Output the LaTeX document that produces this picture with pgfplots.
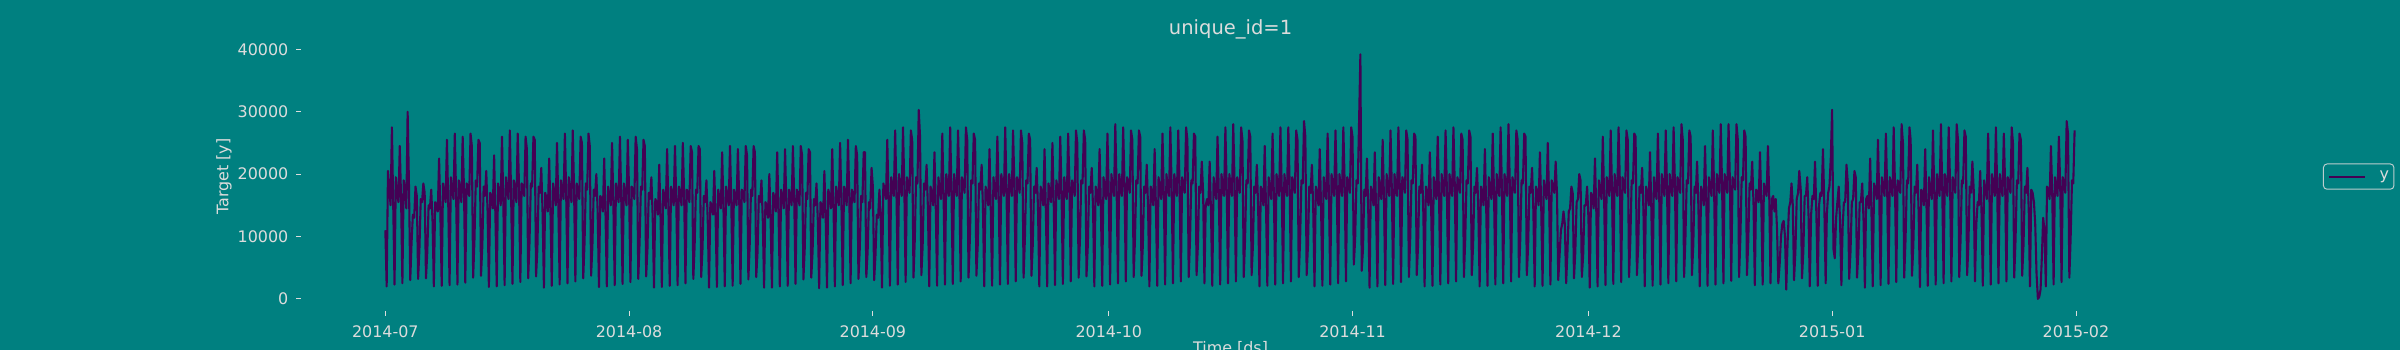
\documentclass[border=0pt]{standalone}
\usepackage{pgfplots}
\usepackage{pgfplotstable}
\pgfplotsset{compat=1.18}
\usepackage{fontspec}
\setmainfont{DejaVu Sans}
\definecolor{bg}{HTML}{008080}
\definecolor{fg}{HTML}{DCDCDC}
\definecolor{ln}{HTML}{440154}

% NYC taxi demand, sampled every 4 hours (00,04,08,12,16,20), one day per line, 2014-07-01 .. 2015-01-31
\pgfplotstableread[row sep=\\]{
y\\
11000\\ 2000\\ 20500\\ 17500\\ 15000\\ 27500\\
15000\\ 2300\\ 19500\\ 17000\\ 15500\\ 24500\\
16000\\ 2500\\ 19000\\ 17500\\ 14500\\ 30000\\
18500\\ 3000\\ 9000\\ 13500\\ 13000\\ 18000\\
16500\\ 3200\\ 8000\\ 16000\\ 15500\\ 18500\\
17000\\ 3300\\ 7500\\ 15000\\ 14500\\ 17500\\
12500\\ 2000\\ 15500\\ 15000\\ 14000\\ 22500\\
13500\\ 2100\\ 18500\\ 17000\\ 15500\\ 25500\\
15000\\ 2200\\ 19500\\ 17500\\ 16000\\ 26500\\
16500\\ 2300\\ 19000\\ 17500\\ 15500\\ 26000\\
17500\\ 2600\\ 18500\\ 18000\\ 16500\\ 26500\\
24500\\ 3400\\ 9500\\ 19000\\ 18000\\ 25500\\
25000\\ 3700\\ 8500\\ 18000\\ 16500\\ 20500\\
14000\\ 1900\\ 17000\\ 16500\\ 14500\\ 23000\\
13000\\ 2000\\ 18500\\ 17000\\ 15000\\ 26000\\
15500\\ 2200\\ 19500\\ 17500\\ 16000\\ 27000\\
16000\\ 2400\\ 19000\\ 17500\\ 15500\\ 26500\\
18000\\ 2700\\ 18500\\ 18000\\ 16500\\ 26000\\
24000\\ 3300\\ 9000\\ 18500\\ 18000\\ 26000\\
25500\\ 3600\\ 8000\\ 18000\\ 17000\\ 21000\\
13500\\ 1800\\ 17000\\ 16000\\ 14000\\ 22500\\
14000\\ 2100\\ 18500\\ 17000\\ 15000\\ 25000\\
15000\\ 2300\\ 19000\\ 17500\\ 16000\\ 26500\\
16500\\ 2500\\ 19500\\ 17500\\ 15500\\ 27000\\
17500\\ 2800\\ 18500\\ 17500\\ 16000\\ 26000\\
25000\\ 3300\\ 9000\\ 18500\\ 17500\\ 26500\\
24500\\ 3700\\ 8500\\ 17500\\ 16500\\ 20000\\
14000\\ 1900\\ 16500\\ 16000\\ 14000\\ 22500\\
13500\\ 2000\\ 18000\\ 16500\\ 15000\\ 25000\\
15000\\ 2200\\ 18500\\ 17000\\ 15500\\ 26000\\
16000\\ 2400\\ 18500\\ 17000\\ 15000\\ 25500\\
17000\\ 2700\\ 18000\\ 17500\\ 16000\\ 26000\\
24000\\ 3200\\ 9000\\ 18000\\ 17500\\ 25500\\
24500\\ 3600\\ 8000\\ 17000\\ 16000\\ 19500\\
13000\\ 1800\\ 16000\\ 15500\\ 13500\\ 21500\\
13000\\ 1900\\ 17500\\ 16500\\ 14500\\ 24000\\
14500\\ 2100\\ 18000\\ 16500\\ 15000\\ 24500\\
15500\\ 2200\\ 18000\\ 17000\\ 15000\\ 25000\\
16500\\ 2500\\ 17500\\ 17000\\ 15500\\ 24500\\
23500\\ 3200\\ 8500\\ 17500\\ 17000\\ 24500\\
24000\\ 3500\\ 8000\\ 16500\\ 15500\\ 19000\\
12500\\ 1800\\ 15500\\ 15000\\ 13500\\ 20500\\
13000\\ 1900\\ 17500\\ 16000\\ 14500\\ 23500\\
14500\\ 2000\\ 18000\\ 16500\\ 15000\\ 24500\\
15000\\ 2100\\ 17500\\ 16500\\ 15000\\ 24000\\
16000\\ 2400\\ 17500\\ 17000\\ 15500\\ 24500\\
23000\\ 3100\\ 8500\\ 17500\\ 16500\\ 24500\\
23500\\ 3500\\ 7500\\ 16500\\ 15500\\ 19000\\
12500\\ 1800\\ 15500\\ 15000\\ 13000\\ 20000\\
12500\\ 1800\\ 17000\\ 16000\\ 14000\\ 23500\\
14000\\ 2000\\ 17500\\ 16500\\ 14500\\ 24000\\
15000\\ 2100\\ 17500\\ 16500\\ 15000\\ 24500\\
16000\\ 2400\\ 17500\\ 16500\\ 15000\\ 24500\\
23000\\ 3100\\ 8000\\ 17000\\ 16000\\ 24000\\
23500\\ 3400\\ 7500\\ 16000\\ 15000\\ 18500\\
12500\\ 1700\\ 15500\\ 15000\\ 13000\\ 20500\\
13000\\ 1800\\ 17500\\ 16500\\ 14500\\ 24000\\
14500\\ 2000\\ 18000\\ 16500\\ 15000\\ 25000\\
15500\\ 2200\\ 18000\\ 17000\\ 15000\\ 25500\\
16500\\ 2500\\ 17500\\ 16500\\ 15500\\ 24500\\
23000\\ 3200\\ 8000\\ 16500\\ 15500\\ 23500\\
23500\\ 3500\\ 7500\\ 15500\\ 14500\\ 21000\\
18000\\ 3000\\ 7000\\ 13500\\ 13000\\ 17500\\
13000\\ 1800\\ 18500\\ 17500\\ 16000\\ 25500\\
15500\\ 2100\\ 19500\\ 18000\\ 16500\\ 27000\\
17000\\ 2300\\ 20000\\ 18000\\ 16500\\ 27500\\
18000\\ 2700\\ 19500\\ 18500\\ 17000\\ 27000\\
25500\\ 3400\\ 9500\\ 19500\\ 18500\\ 30300\\
26000\\ 3800\\ 8500\\ 18500\\ 17500\\ 21500\\
14500\\ 2000\\ 18000\\ 17000\\ 15000\\ 23500\\
14500\\ 2100\\ 19500\\ 17500\\ 16000\\ 26500\\
16000\\ 2300\\ 20000\\ 18000\\ 16500\\ 27500\\
17000\\ 2400\\ 20000\\ 18000\\ 16500\\ 27000\\
18000\\ 2800\\ 19500\\ 18500\\ 17000\\ 27500\\
25500\\ 3400\\ 9500\\ 19000\\ 18500\\ 26500\\
25500\\ 3700\\ 8500\\ 18500\\ 17500\\ 21500\\
14500\\ 2000\\ 18000\\ 17000\\ 15000\\ 24000\\
14000\\ 2100\\ 19500\\ 17500\\ 16000\\ 26000\\
16500\\ 2300\\ 20000\\ 18000\\ 16500\\ 27500\\
17000\\ 2400\\ 20000\\ 18000\\ 16500\\ 27000\\
18000\\ 2800\\ 19500\\ 18500\\ 17000\\ 27000\\
25000\\ 3400\\ 9500\\ 19000\\ 18500\\ 26500\\
25500\\ 3700\\ 8500\\ 18000\\ 17000\\ 21000\\
14500\\ 2000\\ 18000\\ 17000\\ 15000\\ 24000\\
14000\\ 2000\\ 18500\\ 17000\\ 15500\\ 25000\\
15500\\ 2200\\ 19000\\ 17500\\ 16000\\ 26000\\
16500\\ 2400\\ 19500\\ 17500\\ 16000\\ 26500\\
18000\\ 2800\\ 19000\\ 18000\\ 16500\\ 27000\\
25000\\ 3400\\ 9500\\ 19000\\ 18500\\ 27000\\
25500\\ 3600\\ 8500\\ 18000\\ 17000\\ 21000\\
14500\\ 2000\\ 18000\\ 17000\\ 15000\\ 24000\\
14500\\ 2100\\ 19500\\ 17500\\ 16000\\ 26500\\
16500\\ 2300\\ 20000\\ 18000\\ 16500\\ 28000\\
17500\\ 2500\\ 20000\\ 18000\\ 16500\\ 27500\\
18500\\ 2800\\ 19500\\ 18500\\ 17000\\ 27000\\
25500\\ 3500\\ 9500\\ 19000\\ 18500\\ 27000\\
26000\\ 3700\\ 8500\\ 18000\\ 17000\\ 21500\\
14500\\ 2000\\ 18000\\ 17000\\ 15000\\ 24000\\
14500\\ 2100\\ 19500\\ 17500\\ 16000\\ 26500\\
16500\\ 2300\\ 20000\\ 18000\\ 16500\\ 27500\\
17500\\ 2500\\ 20000\\ 18000\\ 16500\\ 27000\\
18500\\ 2800\\ 19500\\ 18500\\ 17000\\ 27500\\
25500\\ 3500\\ 9500\\ 19000\\ 18500\\ 26500\\
26000\\ 3800\\ 8500\\ 18000\\ 17000\\ 22000\\
17000\\ 2500\\ 15000\\ 16000\\ 15000\\ 22000\\
14000\\ 2100\\ 19500\\ 17500\\ 16000\\ 26000\\
16500\\ 2300\\ 20000\\ 18000\\ 16500\\ 27500\\
17500\\ 2500\\ 20000\\ 18000\\ 16500\\ 28000\\
18500\\ 2800\\ 19500\\ 18500\\ 17000\\ 27500\\
25500\\ 3500\\ 9500\\ 19000\\ 18500\\ 27000\\
26000\\ 3800\\ 8500\\ 18000\\ 17000\\ 21500\\
14500\\ 2000\\ 18000\\ 17000\\ 15000\\ 24500\\
14500\\ 2100\\ 19500\\ 17500\\ 16000\\ 26500\\
16500\\ 2300\\ 20000\\ 18000\\ 16500\\ 27500\\
17500\\ 2500\\ 20000\\ 18000\\ 16500\\ 27500\\
18500\\ 2800\\ 19500\\ 18500\\ 17000\\ 27000\\
25500\\ 3500\\ 9500\\ 19000\\ 18500\\ 28500\\
26000\\ 3800\\ 8500\\ 18000\\ 17000\\ 21500\\
14500\\ 2000\\ 18000\\ 17000\\ 15000\\ 24000\\
14500\\ 2100\\ 19500\\ 17500\\ 16000\\ 26500\\
16500\\ 2300\\ 20000\\ 18000\\ 16500\\ 27000\\
17500\\ 2500\\ 20000\\ 18000\\ 16500\\ 27500\\
18500\\ 2800\\ 19500\\ 18500\\ 17000\\ 27500\\
26000\\ 5500\\ 9500\\ 19000\\ 18500\\ 28500\\
39200\\ 4500\\ 8000\\ 17500\\ 16500\\ 22500\\
14000\\ 1800\\ 18000\\ 17000\\ 15000\\ 23500\\
14000\\ 2000\\ 19500\\ 17500\\ 16000\\ 25500\\
16000\\ 2200\\ 20000\\ 18000\\ 16500\\ 27000\\
17500\\ 2400\\ 20000\\ 18000\\ 16500\\ 27500\\
18500\\ 2700\\ 19500\\ 18500\\ 17000\\ 27000\\
25500\\ 3500\\ 9500\\ 19000\\ 18500\\ 26500\\
26000\\ 3800\\ 8500\\ 18000\\ 17000\\ 21500\\
14000\\ 2000\\ 18000\\ 17000\\ 15000\\ 23500\\
14500\\ 2100\\ 19500\\ 17500\\ 16000\\ 26000\\
16500\\ 2300\\ 20000\\ 18000\\ 16500\\ 27000\\
17500\\ 2500\\ 20000\\ 18000\\ 16500\\ 27500\\
18500\\ 2800\\ 19500\\ 18500\\ 17000\\ 26500\\
25500\\ 3500\\ 9500\\ 19000\\ 18500\\ 27000\\
26000\\ 3800\\ 8500\\ 18000\\ 17000\\ 21000\\
14000\\ 2000\\ 18000\\ 17000\\ 15000\\ 24000\\
14500\\ 2100\\ 19500\\ 17500\\ 16000\\ 26500\\
16500\\ 2300\\ 20000\\ 18000\\ 16500\\ 27500\\
17500\\ 2500\\ 20000\\ 18000\\ 16500\\ 28000\\
18500\\ 2800\\ 19500\\ 18500\\ 17000\\ 27000\\
25500\\ 3500\\ 9500\\ 19000\\ 18500\\ 26500\\
26000\\ 3800\\ 8500\\ 18000\\ 17000\\ 21000\\
14000\\ 2000\\ 18000\\ 17000\\ 15000\\ 23500\\
14500\\ 2100\\ 19000\\ 17500\\ 16000\\ 25000\\
16000\\ 2300\\ 19000\\ 18000\\ 17000\\ 22000\\
17000\\ 3000\\ 7000\\ 11000\\ 12000\\ 14000\\
12000\\ 2500\\ 7500\\ 14000\\ 14500\\ 18000\\
17000\\ 3300\\ 7500\\ 15500\\ 16000\\ 20000\\
19000\\ 3500\\ 7000\\ 15000\\ 15000\\ 18000\\
13000\\ 1800\\ 17000\\ 16500\\ 14500\\ 22500\\
14000\\ 2000\\ 19000\\ 17500\\ 16000\\ 26000\\
16000\\ 2200\\ 19500\\ 18000\\ 16500\\ 27000\\
17500\\ 2400\\ 20000\\ 18000\\ 16500\\ 27500\\
18500\\ 2700\\ 19500\\ 18500\\ 17000\\ 27000\\
25500\\ 3500\\ 9500\\ 19000\\ 18500\\ 26500\\
26000\\ 3800\\ 8500\\ 18000\\ 17000\\ 21000\\
14000\\ 2000\\ 18000\\ 17000\\ 15000\\ 23500\\
14500\\ 2100\\ 19500\\ 17500\\ 16000\\ 26500\\
16500\\ 2300\\ 20000\\ 18000\\ 16500\\ 27000\\
17500\\ 2500\\ 20000\\ 18000\\ 16500\\ 27500\\
18500\\ 2800\\ 19500\\ 18500\\ 17000\\ 28000\\
25500\\ 3500\\ 9500\\ 19000\\ 18500\\ 27000\\
26000\\ 3800\\ 8500\\ 18000\\ 17000\\ 22000\\
14500\\ 2000\\ 18000\\ 17000\\ 15000\\ 24500\\
15000\\ 2100\\ 19500\\ 18000\\ 16500\\ 27000\\
17000\\ 2300\\ 20000\\ 18000\\ 17000\\ 28000\\
18000\\ 2500\\ 20000\\ 18500\\ 17000\\ 28000\\
19000\\ 2900\\ 19500\\ 18500\\ 17500\\ 28000\\
25500\\ 3500\\ 10000\\ 19500\\ 19000\\ 27000\\
26000\\ 3800\\ 9000\\ 18500\\ 17500\\ 22000\\
15000\\ 2200\\ 17500\\ 17000\\ 15500\\ 23500\\
15000\\ 2300\\ 18500\\ 17500\\ 16500\\ 24500\\
16000\\ 2500\\ 16000\\ 16500\\ 14000\\ 16000\\
11000\\ 2500\\ 5500\\ 10000\\ 12000\\ 12500\\
10000\\ 1500\\ 9000\\ 14500\\ 15500\\ 18500\\
15000\\ 3000\\ 7500\\ 16000\\ 17000\\ 20500\\
17500\\ 3300\\ 7500\\ 16500\\ 16500\\ 19500\\
13000\\ 2000\\ 13500\\ 16500\\ 16000\\ 22000\\
13500\\ 2100\\ 15000\\ 17000\\ 16500\\ 24000\\
15000\\ 2500\\ 13500\\ 17000\\ 18000\\ 22500\\
30300\\ 8000\\ 6500\\ 13000\\ 15500\\ 18000\\
12500\\ 2200\\ 11500\\ 15500\\ 15500\\ 21500\\
18500\\ 3200\\ 7500\\ 15500\\ 16000\\ 20500\\
19500\\ 3400\\ 7500\\ 15500\\ 15500\\ 18500\\
12500\\ 1800\\ 16000\\ 16500\\ 14500\\ 22500\\
13500\\ 2000\\ 18500\\ 17500\\ 16000\\ 25500\\
16000\\ 2200\\ 19500\\ 18000\\ 16500\\ 26500\\
17000\\ 2400\\ 19500\\ 18000\\ 16500\\ 27500\\
18000\\ 2700\\ 19000\\ 18500\\ 17000\\ 28000\\
25000\\ 3400\\ 9500\\ 19000\\ 18500\\ 27500\\
25500\\ 3700\\ 8500\\ 18000\\ 17000\\ 21500\\
14000\\ 1900\\ 17500\\ 17000\\ 15000\\ 24000\\
14500\\ 2100\\ 19500\\ 17500\\ 16000\\ 27000\\
16500\\ 2300\\ 20000\\ 18000\\ 16500\\ 28000\\
17500\\ 2500\\ 20000\\ 18000\\ 16500\\ 27500\\
18500\\ 2800\\ 19500\\ 18500\\ 17000\\ 28000\\
25500\\ 3500\\ 9500\\ 19000\\ 18500\\ 27000\\
26000\\ 3800\\ 8500\\ 18000\\ 17000\\ 22000\\
17500\\ 2800\\ 12000\\ 15500\\ 15000\\ 20500\\
14000\\ 2100\\ 19000\\ 17500\\ 16000\\ 26500\\
16500\\ 2300\\ 20000\\ 18000\\ 16500\\ 27500\\
17500\\ 2500\\ 20000\\ 18000\\ 16500\\ 26500\\
18000\\ 2800\\ 19500\\ 18500\\ 17000\\ 27500\\
25000\\ 3400\\ 9500\\ 19000\\ 18500\\ 26500\\
25500\\ 3700\\ 8500\\ 18000\\ 17000\\ 21000\\
14000\\ 2000\\ 17500\\ 17000\\ 15500\\ 12000\\
4000\\ 0\\ 300\\ 1500\\ 6500\\ 13000\\
11000\\ 2000\\ 18000\\ 17500\\ 16000\\ 24500\\
16500\\ 2300\\ 19500\\ 18000\\ 16500\\ 26000\\
18000\\ 2700\\ 19500\\ 18500\\ 17000\\ 28500\\
26500\\ 3400\\ 9500\\ 19000\\ 18500\\ 27000\\
}\taxi

\begin{document}
\begin{tikzpicture}
\path[use as bounding box] (0bp,0bp) rectangle (1728bp,252bp);
\fill[bg] (0bp,0bp) rectangle (1728bp,252bp);
\begin{axis}[
  at={(216.6bp,28bp)}, anchor=south west,
  width=1338.8bp, height=193.7bp, scale only axis,
  xmin=-10.749, xmax=225.728,
  ymin=-1960, ymax=41160,
  axis background/.style={fill=bg},
  axis line style={draw=none},
  tick pos=left,
  tick align=outside,
  major tick length=3.3bp,
  tick style={fg, line width=0.6bp},
  xtick={0,31,62,92,123,153,184,215},
  xticklabels={2014-07,2014-08,2014-09,2014-10,2014-11,2014-12,2015-01,2015-02},
  ytick={0,10000,20000,30000,40000},
  scaled y ticks=false,
  /pgf/number format/.cd, fixed, set thousands separator={}, assume math mode=true, /pgfplots/.cd,
  ticklabel style={font=\fontsize{11.5}{13.8}\selectfont, text=fg, inner sep=0pt},
  xticklabel style={anchor=north, yshift=-6.8bp},
  yticklabel style={anchor=east, xshift=-5.5bp},
  every axis title shift=0pt,
  title={unique\_id=1},
  title style={font=\fontsize{14.1}{16.9}\selectfont, text=fg, at={(axis description cs:0.5,1.029)}, anchor=base, inner sep=0pt},
  xlabel={Time [ds]},
  xlabel style={font=\fontsize{11.5}{13.8}\selectfont, text=fg, at={(axis description cs:0.5,-0.1133)}, anchor=north, inner sep=0pt},
  ylabel={Target [y]},
  ylabel style={font=\fontsize{11.5}{13.8}\selectfont, text=fg, at={(axis description cs:-0.0413,0.5)}, anchor=center, inner sep=0pt},
  legend image code/.code={\draw[#1] (0bp,0bp) -- (25.9bp,0bp);},
  legend style={at={(axis description cs:1.0875,0.5)}, anchor=west, fill=bg, draw=fg!85!bg, rounded corners=2.5bp, line width=0.7bp,
    font=\fontsize{11.5}{13.8}\selectfont, text=fg, inner xsep=3.5bp, inner ysep=5.2bp,
    nodes={inner sep=0pt},
    /tikz/every odd column/.append style={column sep=9.5bp}},
]
\addplot[ln, line width=1.5bp, line join=round] table[x expr=\coordindex/6, y=y] {\taxi};
\addlegendentry{y}
\end{axis}
\end{tikzpicture}
\end{document}
